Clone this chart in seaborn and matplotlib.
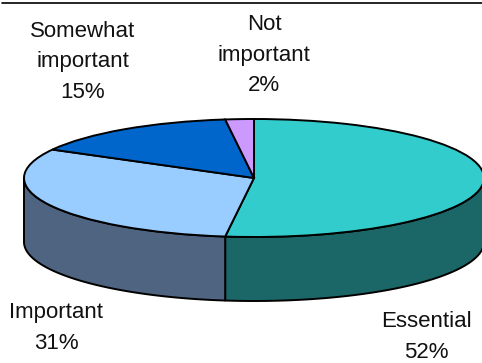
import numpy as np
import matplotlib
matplotlib.use("Agg")
import matplotlib.pyplot as plt
from matplotlib.transforms import Affine2D
import seaborn as sns

categories = ["Essential", "Important", "Somewhat\nimportant", "Not\nimportant"]
values = [52, 31, 15, 2]
top_colors = ["#33CCCC", "#99CCFF", "#0066CC", "#CC99FF"]
side_colors = ["#1B6666", "#4F6480", "#003366", "#665080"]
label_pos = [(426, 337), (56, 328), (83, 62), (264, 55)]

W, H = 482, 363
CX, CY, RX, RY, DEPTH = 254, 178, 230, 59, 64

sns.set_theme(style="white")
plt.rcParams["font.family"] = ["Liberation Sans", "DejaVu Sans"]

fig = plt.figure(figsize=(W / 100, H / 100), dpi=100, facecolor="white")
ax = fig.add_axes([0, 0, 1, 1])
palette = sns.color_palette(top_colors)

ax.pie(values, colors=palette, startangle=90, counterclock=False, radius=1,
       wedgeprops=dict(edgecolor="black", linewidth=1.4, zorder=3), normalize=True)
ax.set_aspect("auto")
ax.set_xlim((0 - CX) / RX, (W - CX) / RX)
ax.set_ylim((CY - H) / RY, CY / RY)
ax.set_frame_on(False)

# extruded side walls of the front half, from the same values
d = DEPTH / RY
edges = np.cumsum([0] + values) / sum(values) * 360
for a0, a1, col in zip(edges[:-1], edges[1:], side_colors):
    lo, hi = max(a0, 90), min(a1, 270)
    if hi <= lo:
        continue
    t = np.radians(np.linspace(lo, hi, 80))
    x, y = np.sin(t), np.cos(t)
    ax.fill(np.r_[x, x[::-1]], np.r_[y, y[::-1] - d], facecolor=col,
            edgecolor="black", linewidth=1.4, zorder=2, joinstyle="round")

px = Affine2D().scale(1 / W, -1 / H).translate(0, 1) + fig.transFigure
for name, v, (lx, ly) in zip(categories, values, label_pos):
    ax.text(lx, ly, f"{name}\n{v}%", transform=px, ha="center", va="center",
            fontsize=16.0, color="#111111", linespacing=1.62)

# rule along the top of the picture
ax.plot([2, W], [2.5, 2.5], transform=px, color="black", linewidth=1.2, clip_on=False)

fig.savefig("out.png", dpi=100, facecolor="white")
